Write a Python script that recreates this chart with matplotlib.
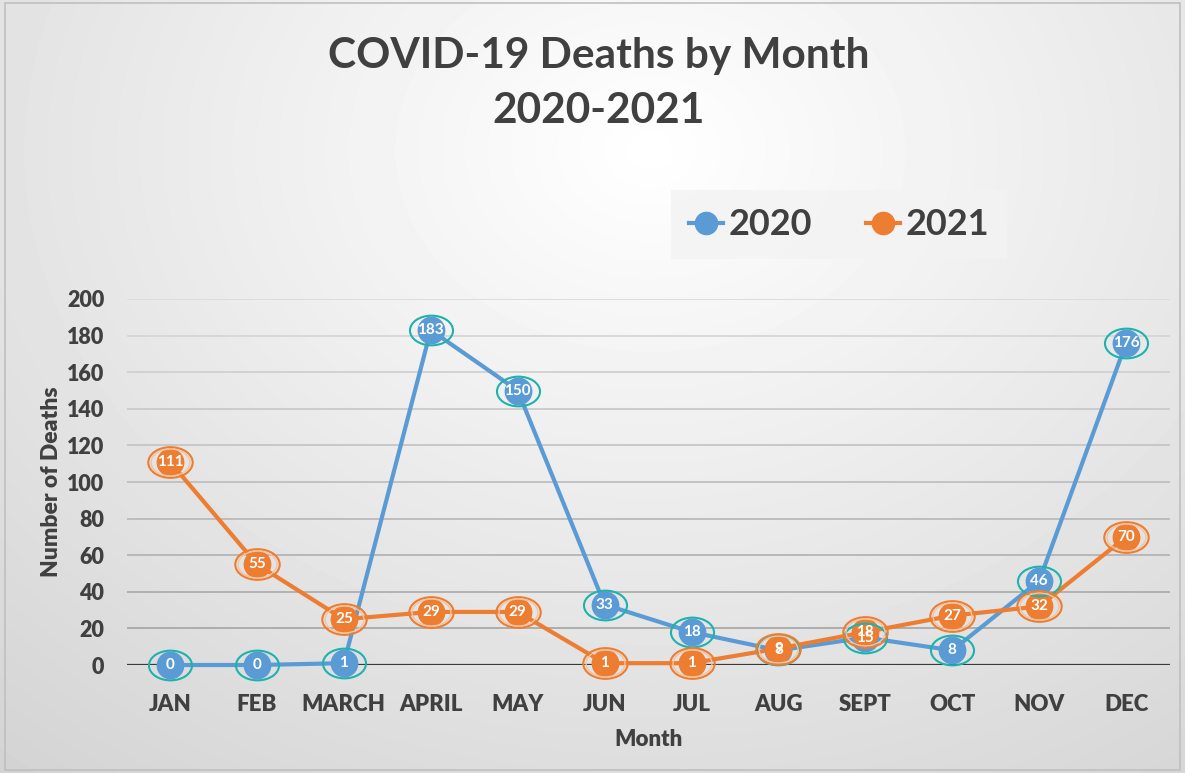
import matplotlib
matplotlib.use("Agg")
import matplotlib.pyplot as plt
import numpy as np
from matplotlib.path import Path
from matplotlib.transforms import Affine2D
from matplotlib.patches import Rectangle

plt.rcParams["font.family"] = ["Lato", "DejaVu Sans"]

months = ["JAN", "FEB", "MARCH", "APRIL", "MAY", "JUN",
          "JUL", "AUG", "SEPT", "OCT", "NOV", "DEC"]
deaths_2020 = [0, 0, 1, 183, 150, 33, 18, 8, 15, 8, 46, 176]
deaths_2021 = [111, 55, 25, 29, 29, 1, 1, 9, 18, 27, 32, 70]

BLUE = "#5B9BD5"
ORANGE = "#ED7D31"
TEAL = "#1DB3AC"
TEXT = "#404040"

fig = plt.figure(figsize=(11.85, 7.73), dpi=100)

# soft radial background like the Excel chart area
bg = fig.add_axes([0, 0, 1, 1], zorder=-10)
yy, xx = np.mgrid[0:773, 0:1185]
r = np.sqrt(((xx - 650) / 950.0) ** 2 + ((yy - 150) / 750.0) ** 2)
shade = np.clip(1.0 - 0.16 * r, 0.82, 1.0)
bg.imshow(shade, cmap="gray", vmin=0, vmax=1, aspect="auto", extent=[0, 1, 0, 1])
bg.add_patch(Rectangle((0.004, 0.004), 0.992, 0.992, transform=bg.transAxes,
                       fill=False, edgecolor="#bfbfbf", lw=1.2))
bg.set_axis_off()

ax = fig.add_axes([0.1068, 0.1397, 0.8802, 0.4735])
ax.set_facecolor("none")
x = np.arange(len(months))
ax.set_xlim(-0.5, len(months) - 0.5)
ax.set_ylim(0, 200)

yticks = np.arange(0, 201, 20)
for t in yticks[1:]:
    g = 0.86 - 0.22 * (1 - t / 200)
    ax.axhline(t, color=(g, g, g), lw=1.3, zorder=0)
ax.axhline(0, color="#3a3a3a", lw=1.6, zorder=1)

ring = Path.unit_circle().transformed(Affine2D().scale(1.45, 1.0))

for vals, col, ringcol, rsize in [(deaths_2020, BLUE, TEAL, 31),
                                  (deaths_2021, ORANGE, ORANGE, 32)]:
    ax.plot(x, vals, color=col, lw=3, zorder=3, clip_on=False)
    ax.plot(x, vals, "o", ms=19, color=col, mec=col, zorder=4, clip_on=False)
    ax.plot(x, vals, ls="none", marker=ring, ms=rsize, mfc="none", mec=ringcol,
            mew=1.5, zorder=5, clip_on=False)
    if col == ORANGE:
        ax.plot(x, vals, ls="none", marker=ring, ms=rsize - 4, mfc="none",
                mec="#f5c3a0", mew=1.0, zorder=5, clip_on=False)
    for xi, v in zip(x, vals):
        ax.text(xi, v, str(v), ha="center", va="center", color="white",
                fontsize=11, fontweight="bold", zorder=6)

ax.set_xticks(x)
ax.set_xticklabels(months)
ax.set_yticks(yticks)
ax.tick_params(axis="both", length=0, labelcolor=TEXT)
ax.tick_params(axis="x", pad=21, labelsize=16)
ax.tick_params(axis="y", pad=16, labelsize=15.5)
for lab in ax.get_xticklabels() + ax.get_yticklabels():
    lab.set_fontweight("heavy")
for s in ax.spines.values():
    s.set_visible(False)

ax.set_xlabel("Month", fontsize=16, fontweight="heavy", color=TEXT, labelpad=10)
ax.set_ylabel("Number of Deaths", fontsize=16.5, fontweight="heavy", color=TEXT,
              labelpad=4)

fig.text(0.505, 0.927, "COVID-19 Deaths by Month", ha="center", va="center",
         fontsize=30.5, fontweight="bold", color=TEXT)
fig.text(0.505, 0.856, "2020-2021", ha="center", va="center",
         fontsize=30.5, fontweight="bold", color=TEXT)

h1, = ax.plot([], [], "-o", color=BLUE, lw=3, ms=16)
h2, = ax.plot([], [], "-o", color=ORANGE, lw=3, ms=16)
leg = fig.legend([h1, h2], ["2020", "2021"], loc="center",
                 bbox_to_anchor=(0.708, 0.709), ncol=2, frameon=True,
                 fontsize=26, handlelength=0.95, handletextpad=0.15,
                 columnspacing=1.5, borderpad=0.5, borderaxespad=0,
                 fancybox=False)
leg.get_frame().set_facecolor("#f3f3f3")
leg.get_frame().set_edgecolor("none")
for t in leg.get_texts():
    t.set_fontweight("bold")
    t.set_color(TEXT)

fig.savefig("out.png", dpi=100)
